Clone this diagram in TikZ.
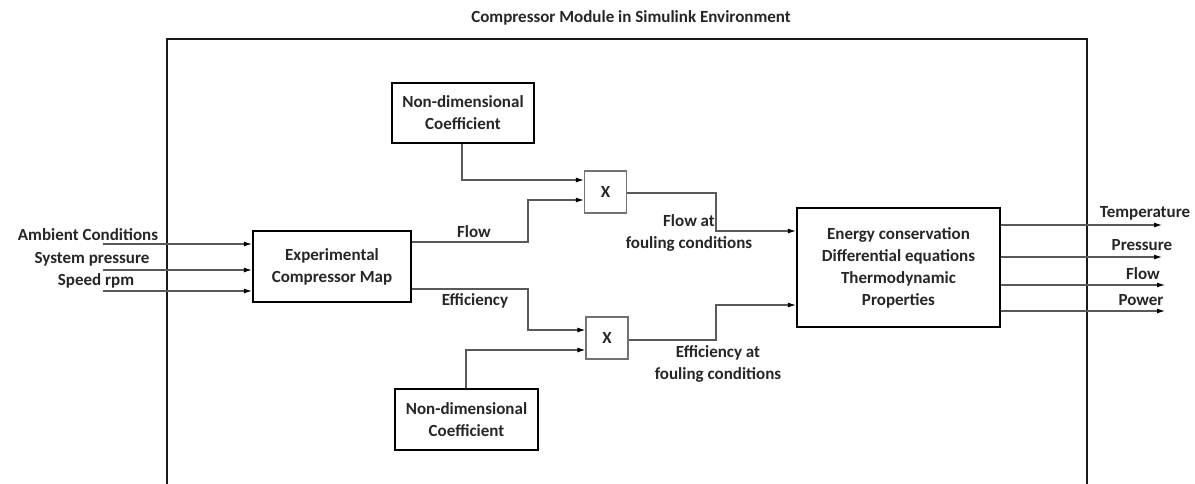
\documentclass[tikz,border=0pt]{standalone}
\usepackage{fontspec}
\setmainfont{Carlito}
\usetikzlibrary{arrows.meta,calc}
\begin{document}
\begin{tikzpicture}[x=1pt,y=-1pt,
  txt/.style={font=\fontsize{17}{22}\selectfont\bfseries, text=black!85, align=center, inner sep=0pt},
  block/.style={draw=black, line width=2.2pt, inner sep=0pt, txt},
  mult/.style={draw=black!55, line width=1.2pt, inner sep=0pt, minimum width=42pt, minimum height=42pt, txt},
  wire/.style={draw=black!65, line width=1.1pt, -{Latex[length=8pt,width=5pt,color=black]}},
  plain/.style={draw=black!65, line width=1.1pt}
]
% page area
\useasboundingbox (0,0) rectangle (1195,483);

% module frame (open at the bottom)
\draw[line width=2.4pt, black!90] (167,495) -- (167,39) -- (1087,39) -- (1087,495);
\node[txt] (title) at (631,18) {Compressor Module in Simulink Environment};

% blocks
\node[block, minimum width=158pt, minimum height=71pt] (map) at (332,266.5) {Experimental\\Compressor Map};
\node[block, minimum width=142pt, minimum height=60pt] (ndtop) at (463,113) {Non-dimensional\\Coefficient};
\node[block, minimum width=143pt, minimum height=61pt] (ndbot) at (466.5,419.5) {Non-dimensional\\Coefficient};
\node[mult] (xtop) at (605.5,192) {X};
\node[mult] (xbot) at (607,338) {X};
\node[block, minimum width=203pt, minimum height=119pt] (energy) at (898.5,267.5) {Energy conservation\\Differential equations\\Thermodynamic\\Properties};

% inputs
\coordinate (in1) at (103,244);
\coordinate (in2) at (103,270);
\coordinate (in3) at (103,291);
\node[txt] (lamb) at (88,235) {Ambient Conditions};
\node[txt] (lsys) at (92,259) {System pressure};
\node[txt] (lspd) at (96,281) {Speed rpm};
\draw[wire] (in1) -- (in1 -| map.west);
\draw[wire] (in2) -- (in2 -| map.west);
\draw[wire] (in3) -- (in3 -| map.west);

% flow branch
\coordinate (fl0) at (map.east |- 0,242);
\draw[wire] (fl0) -- (528,242) -- (528,200) -- (xtop.west |- 0,200);
\node[txt] (lflow) at (474,232) {Flow};
\draw[wire] (ndtop.south -| 462,0) -- (462,180) -- (xtop.west |- 0,180);
\draw[wire] (xtop.east |- 0,193) -- (716,193) -- (716,231) -- (energy.west |- 0,231);
\node[txt] (lflowf) at (689,233) {Flow at\\fouling conditions};

% efficiency branch
\coordinate (ef0) at (map.east |- 0,289);
\draw[wire] (ef0) -- (528,289) -- (528,330) -- (xbot.west |- 0,330);
\node[txt] (leff) at (475,301) {Efficiency};
\draw[wire] (ndbot.north -| 466,0) -- (466,350) -- (xbot.west |- 0,350);
\draw[wire] (xbot.east |- 0,340) -- (716,340) -- (716,305) -- (energy.west |- 0,305);
\node[txt] (lefff) at (718,364) {Efficiency at\\fouling conditions};

% outputs
\coordinate (o1) at (1162,225);
\coordinate (o2) at (1162,257);
\coordinate (o3) at (1165,285);
\coordinate (o4) at (1165,311);
\draw[wire] (energy.east |- o1) -- (o1);
\draw[wire] (energy.east |- o2) -- (o2);
\draw[wire] (energy.east |- o3) -- (o3);
\draw[wire] (energy.east |- o4) -- (o4);
\node[txt] (ltemp) at (1145,213) {Temperature};
\node[txt] (lpres) at (1142,245) {Pressure};
\node[txt] (lfl) at (1143,274) {Flow};
\node[txt] (lpow) at (1141,300) {Power};
\end{tikzpicture}
\end{document}
